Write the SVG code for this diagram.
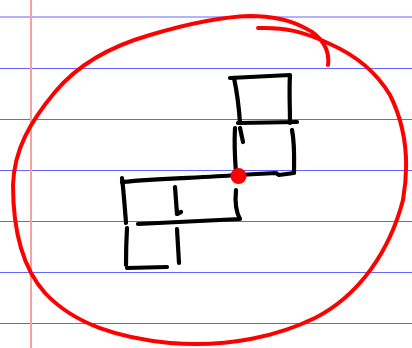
<svg xmlns="http://www.w3.org/2000/svg" width="412" height="348" viewBox="0 0 412 348">
<style>
.rule{stroke:#6464ff;stroke-width:1.2}
.ink{fill:none;stroke:#000;stroke-width:4.2;stroke-linecap:round;stroke-linejoin:round}
</style>
<rect width="412" height="348" fill="#fff"/>
<g id="paper">
<line class="rule" x1="0" y1="17" x2="412" y2="17"/>
<line class="rule" x1="0" y1="68.5" x2="412" y2="68.5"/>
<line class="rule" x1="0" y1="119.5" x2="412" y2="119.5"/>
<line class="rule" x1="0" y1="170.5" x2="412" y2="170.5"/>
<line class="rule" x1="0" y1="221.5" x2="412" y2="221.5"/>
<line class="rule" x1="0" y1="272.5" x2="412" y2="272.5"/>
<line class="rule" x1="0" y1="323.5" x2="412" y2="323.5"/>
<line x1="31" y1="0" x2="31" y2="348" stroke="#f7a0a0" stroke-width="2"/>
</g>
<g id="circle">
<path d="M328,65 C330,50 322,36 305,28 C290,20 270,16 250,16 C215,17 180,26 150,35 C115,45 80,62 55,92 C30,122 14,150 13,185 C13,225 20,265 45,293 C75,325 120,338 170,343 C230,348 280,335 315,318 C360,295 390,250 403,200 C410,160 405,125 390,95 C375,70 355,55 330,44 C305,32 285,27 258,28" fill="none" stroke="#f00" stroke-width="4" stroke-linecap="round"/>
</g>
<g id="squares">
<path class="ink" d="M230,78 L290,75 C289,90 290,108 290,123"/>
<path class="ink" d="M234,78 C237,92 239,108 240,123"/>
<path class="ink" d="M238,123 L297,122"/>
<path class="ink" d="M235,128 C234,145 235,160 236,173"/>
<path class="ink" d="M240,128 L243,142"/>
<path class="ink" d="M292,130 C295,145 294,160 294,173 L279,175 L276,173 L238,175"/>
<path class="ink" d="M122,182 C160,178 200,178 237,175"/>
<path class="ink" d="M122,178 C124,195 125,210 126,223"/>
<path class="ink" d="M138,224 L240,219 C236,212 235,200 236,190"/>
<path class="ink" d="M175,187 L177,214 L181,212"/>
<path class="ink" d="M127,228 C126,245 126,255 126,265"/>
<path class="ink" d="M127,268 L167,267"/>
<path class="ink" d="M177,229 L179,263"/>
</g>
<g id="dot">
<circle cx="238.5" cy="176" r="8" fill="#f00"/>
</g>
</svg>
